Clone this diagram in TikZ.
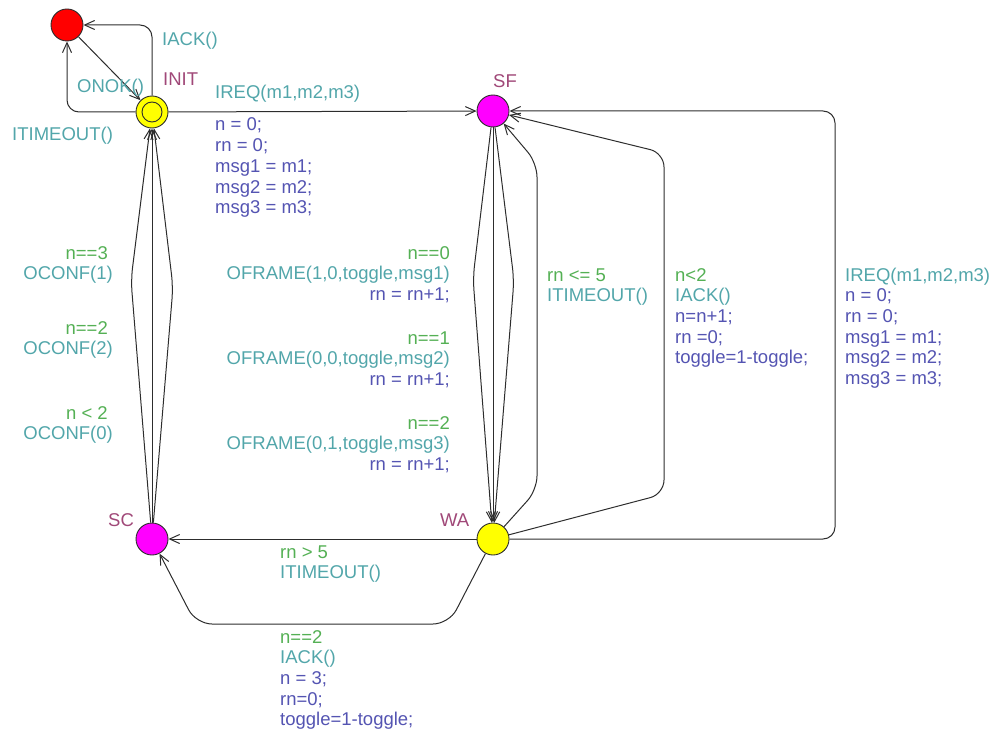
\documentclass[tikz,border=0pt]{standalone}
\usepackage{fontspec}
\setmainfont{Liberation Sans}
\usetikzlibrary{arrows.meta}
\definecolor{guardc}{RGB}{84,176,84}
\definecolor{syncc}{RGB}{82,166,170}
\definecolor{assignc}{RGB}{84,84,178}
\definecolor{namec}{RGB}{160,72,120}
\definecolor{edgec}{RGB}{45,45,45}
\definecolor{locred}{RGB}{255,0,0}
\definecolor{locyellow}{RGB}{255,255,0}
\definecolor{locmagenta}{RGB}{255,0,255}
\begin{document}
\begin{tikzpicture}[x=1pt,y=-1pt,
  loc/.style={circle,draw=edgec,line width=0.9pt,minimum size=32pt,inner sep=0pt},
  inner/.style={circle,draw=edgec,line width=0.9pt,minimum size=20pt,inner sep=0pt},
  edge/.style={draw=edgec,line width=1pt,-{Straight Barb[length=10pt,width=9pt]},rounded corners=12pt},
  lbl/.style={inner sep=0pt,font=\fontsize{18.5}{20.7}\selectfont},
  lname/.style={lbl,text=namec},
  lguard/.style={lbl,text=guardc},
  lsync/.style={lbl,text=syncc},
  lassign/.style={lbl,text=assignc}]
\useasboundingbox (0,0) rectangle (995,735);
% locations
\node[loc,fill=locred] (E) at (67,25) {};
\node[loc,fill=locyellow] (INIT) at (152,112) {};
\node[inner] (INITin) at (152,112) {};
\node[loc,fill=locmagenta] (SF) at (493,111) {};
\node[loc,fill=locmagenta] (SC) at (152,539) {};
\node[loc,fill=locyellow] (WA) at (493,539) {};
% location names
\node[lname,anchor=base west] (nINIT) at (163,86) {INIT};
\node[lname,anchor=base west] (nSF) at (493,88) {SF};
\node[lname,anchor=base west] (nSC) at (108,526) {SC};
\node[lname,anchor=base west] (nWA) at (440,526) {WA};
% bend points
\coordinate (c1) at (152,25);
\coordinate (c2) at (67,112);
\coordinate (nl1) at (473,278);
\coordinate (nr1) at (514,280);
\coordinate (nl2) at (131,280);
\coordinate (nr2) at (173,287);
\coordinate (a1) at (537,490);
\coordinate (a2) at (537,163);
\coordinate (b1) at (664,494);
\coordinate (b2) at (664,153);
\coordinate (d1) at (835,539);
\coordinate (d2) at (835,111);
\coordinate (e1) at (449,624);
\coordinate (e2) at (196,624);
% edges
\draw[edge] (E) -- (INIT);
\draw[edge] (INIT) -- (c1) -- (E);
\draw[edge] (INIT) -- (c2) -- (E);
\draw[edge] (INIT) -- (SF);
\draw[edge] (SF) -- (WA);
\draw[edge] (SF) -- (nl1) -- (WA);
\draw[edge] (SF) -- (nr1) -- (WA);
\draw[edge] (SC) -- (INIT);
\draw[edge] (SC) -- (nl2) -- (INIT);
\draw[edge] (SC) -- (nr2) -- (INIT);
\draw[edge,rounded corners=14pt] (WA) -- (a1) -- (a2) -- (SF);
\draw[edge,rounded corners=14pt] (WA) -- (b1) -- (b2) -- (SF);
\draw[edge] (WA) -- (d1) -- (d2) -- (SF);
\draw[edge] (WA) -- (SC);
\draw[edge,rounded corners=16pt] (WA) -- (e1) -- (e2) -- (SC);
% labels (multi-line nodes are anchored at the baseline of their last line)
\node[lsync,anchor=base west] (l1) at (162,46) {IACK()};
\node[lsync,anchor=base west] (l2) at (77,93) {ONOK()};
\node[lsync,anchor=base west] (l3) at (12,141) {ITIMEOUT()};
\node[lsync,anchor=base west] (l4) at (215,99) {IREQ(m1,m2,m3)};
\node[lassign,anchor=base west,align=left] (l5) at (215,213.8) {n = 0;\\rn = 0;\\msg1 = m1;\\msg2 = m2;\\msg3 = m3;};
\node[lguard,anchor=base east] (g1) at (108,259) {n==3};
\node[lsync,anchor=base east] (s1) at (113,279) {OCONF(1)};
\node[lguard,anchor=base east] (g2) at (108,334) {n==2};
\node[lsync,anchor=base east] (s2) at (113,354) {OCONF(2)};
\node[lguard,anchor=base east] (g3) at (108,419) {n < 2};
\node[lsync,anchor=base east] (s3) at (113,439) {OCONF(0)};
\node[lbl,anchor=base east,align=right] (f1) at (450,300.4) {\textcolor{guardc}{n==0}\\\textcolor{syncc}{OFRAME(1,0,toggle,msg1)}\\\textcolor{assignc}{rn = rn+1;}};
\node[lbl,anchor=base east,align=right] (f2) at (450,385.4) {\textcolor{guardc}{n==1}\\\textcolor{syncc}{OFRAME(0,0,toggle,msg2)}\\\textcolor{assignc}{rn = rn+1;}};
\node[lbl,anchor=base east,align=right] (f3) at (450,470.4) {\textcolor{guardc}{n==2}\\\textcolor{syncc}{OFRAME(0,1,toggle,msg3)}\\\textcolor{assignc}{rn = rn+1;}};
\node[lbl,anchor=base west,align=left] (t1) at (547,301.7) {\textcolor{guardc}{rn <= 5}\\\textcolor{syncc}{ITIMEOUT()}};
\node[lbl,anchor=base west,align=left] (t2) at (675,363.8) {\textcolor{guardc}{n<2}\\\textcolor{syncc}{IACK()}\\\textcolor{assignc}{n=n+1;}\\\textcolor{assignc}{rn =0;}\\\textcolor{assignc}{toggle=1-toggle;}};
\node[lbl,anchor=base west,align=left] (t3) at (845,384.5) {\textcolor{syncc}{IREQ(m1,m2,m3)}\\\textcolor{assignc}{n = 0;}\\\textcolor{assignc}{rn = 0;}\\\textcolor{assignc}{msg1 = m1;}\\\textcolor{assignc}{msg2 = m2;}\\\textcolor{assignc}{msg3 = m3;}};
\node[lbl,anchor=base west,align=left] (t4) at (280,578.7) {\textcolor{guardc}{rn > 5}\\\textcolor{syncc}{ITIMEOUT()}};
\node[lbl,anchor=base west,align=left] (t5) at (280,725.8) {\textcolor{guardc}{n==2}\\\textcolor{syncc}{IACK()}\\\textcolor{assignc}{n = 3;}\\\textcolor{assignc}{rn=0;}\\\textcolor{assignc}{toggle=1-toggle;}};
\end{tikzpicture}
\end{document}
